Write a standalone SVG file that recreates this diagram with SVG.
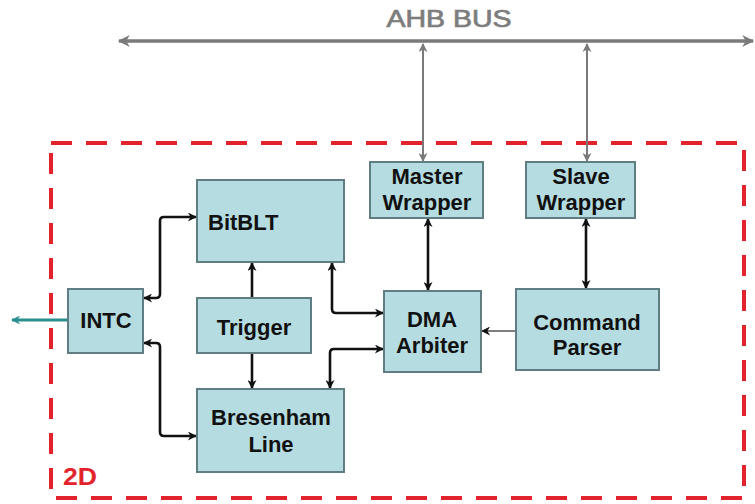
<svg xmlns="http://www.w3.org/2000/svg" width="755" height="504" viewBox="0 0 755 504">
<defs>
<marker id="ab" viewBox="0 0 10 10" refX="9" refY="5" markerWidth="10" markerHeight="9" markerUnits="userSpaceOnUse" orient="auto-start-reverse"><path d="M0,0 L10,5 L0,10 L3,5 Z" fill="#111"/></marker>
<marker id="ag" viewBox="0 0 10 10" refX="9" refY="5" markerWidth="9" markerHeight="9" markerUnits="userSpaceOnUse" orient="auto-start-reverse"><path d="M0,0 L10,5 L0,10 L3,5 Z" fill="#7a7a7a"/></marker>
<marker id="agb" viewBox="0 0 10 10" refX="9" refY="5" markerWidth="13" markerHeight="12" markerUnits="userSpaceOnUse" orient="auto-start-reverse"><path d="M0,0 L10,5 L0,10 L3,5 Z" fill="#7a7a7a"/></marker>
<marker id="at" viewBox="0 0 10 10" refX="9" refY="5" markerWidth="10" markerHeight="9" markerUnits="userSpaceOnUse" orient="auto-start-reverse"><path d="M0,0 L10,5 L0,10 L3,5 Z" fill="#2a8f8f"/></marker>
</defs>
<style>
.box{fill:#b5dce0;stroke:#5f7d82;stroke-width:2}
.t{font-family:"Liberation Sans",Arial,sans-serif;font-weight:bold;font-size:22px;fill:#111;text-anchor:middle}
.c{fill:none;stroke:#111;stroke-width:2.6;stroke-linejoin:round}
</style>
<rect width="755" height="504" fill="#ffffff"/>
<g id="bus">
<text x="449" y="27" font-family="Liberation Sans,Arial,sans-serif" font-size="23" fill="#7d7d7d" stroke="#7d7d7d" stroke-width="0.7" text-anchor="middle" textLength="125" lengthAdjust="spacingAndGlyphs">AHB BUS</text>
<line x1="119" y1="41" x2="753" y2="41" stroke="#7a7a7a" stroke-width="3.5" marker-start="url(#agb)" marker-end="url(#agb)"/>
</g>
<g id="boundary">
<rect x="51" y="143" width="693" height="355" fill="none" stroke="#e3232b" stroke-width="4" stroke-dasharray="21 14"/>
<text x="63" y="485" font-family="Liberation Sans,Arial,sans-serif" font-weight="bold" font-size="24" fill="#e3232b" textLength="34" lengthAdjust="spacingAndGlyphs">2D</text>
</g>
<g id="connectors">
<line x1="423" y1="44" x2="423" y2="161" stroke="#7a7a7a" stroke-width="2" marker-start="url(#ag)" marker-end="url(#ag)"/>
<line x1="587" y1="44" x2="587" y2="161" stroke="#7a7a7a" stroke-width="2" marker-start="url(#ag)" marker-end="url(#ag)"/>
<path class="c" d="M144,298 L156,298 Q160,298 160,294 L160,221 Q160,217 164,217 L196,217" marker-start="url(#ab)" marker-end="url(#ab)"/>
<path class="c" d="M144,343 L156,343 Q160,343 160,347 L160,432 Q160,436 164,436 L196,436" marker-start="url(#ab)" marker-end="url(#ab)"/>
<line class="c" x1="252" y1="298" x2="252" y2="263" marker-end="url(#ab)"/>
<line class="c" x1="252" y1="353" x2="252" y2="388" marker-end="url(#ab)"/>
<path class="c" d="M332,263 L332,309 Q332,313 336,313 L383,313" marker-start="url(#ab)" marker-end="url(#ab)"/>
<path class="c" d="M383,349 L334,349 Q330,349 330,353 L330,388" marker-start="url(#ab)" marker-end="url(#ab)"/>
<line class="c" x1="428" y1="219" x2="428" y2="290" marker-start="url(#ab)" marker-end="url(#ab)"/>
<line class="c" x1="586" y1="219" x2="586" y2="288" marker-start="url(#ab)" marker-end="url(#ab)"/>
<line x1="515" y1="331" x2="482" y2="331" stroke="#555" stroke-width="1.5" marker-end="url(#ab)"/>
<line x1="67" y1="320" x2="12" y2="320" stroke="#2a8f8f" stroke-width="3" marker-end="url(#at)"/>
</g>
<g id="bitblt"><rect class="box" x="197" y="180" width="147" height="82"/><text class="t" x="208" y="230" style="text-anchor:start">BitBLT</text></g>
<g id="intc"><rect class="box" x="68" y="289" width="75" height="64"/><text class="t" x="106" y="328">INTC</text></g>
<g id="trigger"><rect class="box" x="197" y="298" width="114" height="55"/><text class="t" x="254" y="335">Trigger</text></g>
<g id="bresenham"><rect class="box" x="197" y="389" width="147" height="83"/><text class="t" x="271" y="425">Bresenham</text><text class="t" x="271" y="452">Line</text></g>
<g id="master"><rect class="box" x="370" y="162" width="113" height="56"/><text class="t" x="427" y="184">Master</text><text class="t" x="427" y="210">Wrapper</text></g>
<g id="slave"><rect class="box" x="526" y="162" width="109" height="56"/><text class="t" x="581" y="184">Slave</text><text class="t" x="581" y="210">Wrapper</text></g>
<g id="dma"><rect class="box" x="384" y="291" width="97" height="81"/><text class="t" x="432" y="327">DMA</text><text class="t" x="432" y="353">Arbiter</text></g>
<g id="parser"><rect class="box" x="516" y="289" width="143" height="81"/><text class="t" x="587" y="330">Command</text><text class="t" x="587" y="355">Parser</text></g>
</svg>
